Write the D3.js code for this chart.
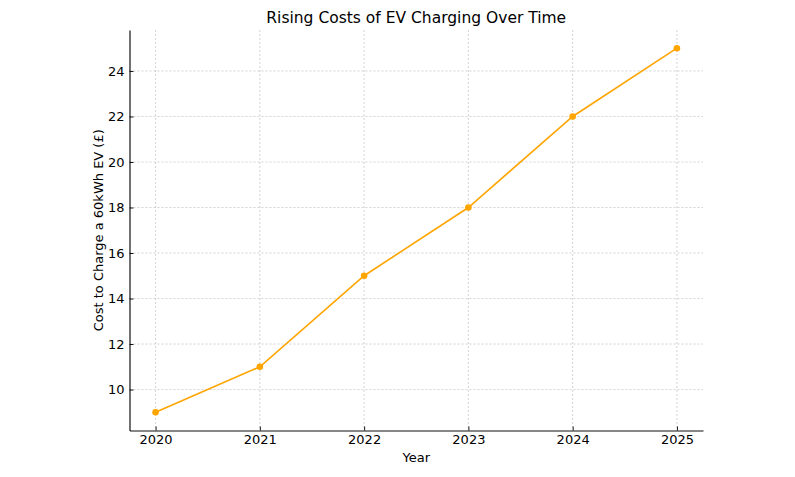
<!DOCTYPE html>
<html><head><meta charset="utf-8">
<script src="https://cdn.jsdelivr.net/npm/d3@7"></script>
<style>body{margin:0;background:#fff;} text{font-family:"DejaVu Sans",sans-serif;fill:#000;}</style>
</head><body>
<svg id="c" width="795" height="477"></svg>
<script>
const years = [2020, 2021, 2022, 2023, 2024, 2025];
const costs = [9, 11, 15, 18, 22, 25];
const yTicks = [10, 12, 14, 16, 18, 20, 22, 24];

const svg = d3.select("#c");
const L = 129.5, R = 703, T = 30, B = 430.5;
const x = d3.scaleLinear().domain([2019.75, 2025.25]).range([L, R]);
const y = d3.scaleLinear().domain([8.2, 25.8]).range([B, T]);

// grid
const g = svg.append("g");
g.selectAll(".vg").data(years).enter().append("line")
  .attr("x1", d => x(d)).attr("x2", d => x(d)).attr("y1", T).attr("y2", B)
  .attr("stroke", "#c8c8c8").attr("stroke-width", 0.8).attr("stroke-dasharray", "2,2");
g.selectAll(".hg").data(yTicks).enter().append("line")
  .attr("x1", L).attr("x2", R).attr("y1", d => y(d)).attr("y2", d => y(d))
  .attr("stroke", "#c8c8c8").attr("stroke-width", 0.8).attr("stroke-dasharray", "2,2");

// axes
const xAxis = d3.axisBottom(x).tickValues(years).tickFormat(d3.format("d")).tickSizeInner(-4).tickSizeOuter(0).tickPadding(4.5);
const yAxis = d3.axisLeft(y).tickValues(yTicks).tickSizeInner(-4).tickSizeOuter(0).tickPadding(5);
const xa = svg.append("g").attr("transform", `translate(0,${B})`).call(xAxis);
const ya = svg.append("g").attr("transform", `translate(${L},0)`).call(yAxis);
[xa, ya].forEach(a => {
  a.select(".domain").attr("stroke", "#111").attr("stroke-width", 1.2);
  a.selectAll(".tick line").attr("stroke", "#111").attr("stroke-width", 1);
  a.selectAll(".tick text").style("font-family", "DejaVu Sans").style("font-size", "13px").attr("fill", "#000");
});

// line
const data = years.map((yr, i) => ({yr, v: costs[i]}));
svg.append("path").datum(data)
  .attr("d", d3.line().x(d => x(d.yr)).y(d => y(d.v)))
  .attr("fill", "none").attr("stroke", "#FFA500").attr("stroke-width", 1.6);
svg.selectAll(".pt").data(data).enter().append("circle")
  .attr("cx", d => x(d.yr)).attr("cy", d => y(d.v)).attr("r", 3.3).attr("fill", "#FFA500");

// labels
svg.append("text").attr("x", (L + R) / 2).attr("y", 23).attr("text-anchor", "middle")
  .style("font-size", "15.5px").text("Rising Costs of EV Charging Over Time");
svg.append("text").attr("x", (L + R) / 2).attr("y", 461.5).attr("text-anchor", "middle")
  .style("font-size", "13px").text("Year");
svg.append("text").attr("transform", `translate(102.5,${(T + B) / 2}) rotate(-90)`).attr("text-anchor", "middle")
  .style("font-size", "13px").text("Cost to Charge a 60kWh EV (£)");
</script>
</body></html>
